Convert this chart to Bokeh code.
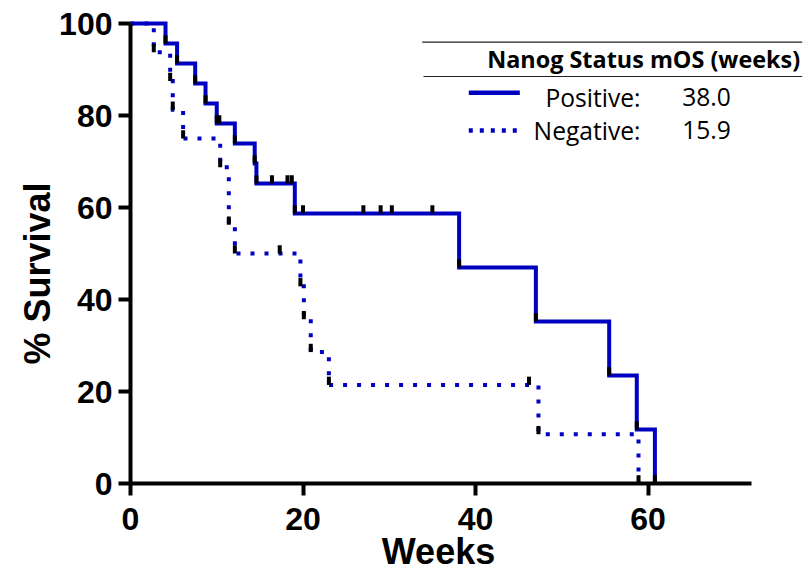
import math
from bokeh.plotting import figure
from bokeh.models import Range1d, FixedTicker
from bokeh.core.properties import value
from bokeh.embed import file_html
from bokeh.resources import INLINE

# ---- data ----
# Nanog positive: event times (weeks) and survival (%) after each event
pos_t = [0, 4.06, 5.4, 7.5, 8.7, 10.0, 12.1, 14.4, 14.6, 19.05, 38.1, 47.0, 55.5, 58.7, 60.8]
pos_s = [100, 95.65, 91.30, 86.96, 82.61, 78.26, 73.91, 69.57, 65.22, 58.70, 46.96, 35.22, 23.48, 11.74, 0]
pos_cens_t = [10.3, 16.4, 18.2, 18.7, 20.0, 27.0, 29.0, 30.3, 35.0]
pos_cens_s = [78.26, 65.22, 65.22, 65.22, 58.70, 58.70, 58.70, 58.70, 58.70]

# Nanog negative
neg_t = [0, 2.7, 4.6, 4.9, 6.1, 10.4, 11.4, 12.1, 19.7, 20.1, 20.9, 23.0, 47.3, 58.9]
neg_s = [100, 93.75, 87.5, 81.25, 75.0, 68.75, 56.25, 50.0, 42.86, 35.71, 28.57, 21.43, 10.71, 0]
neg_cens_t = [17.3, 46.2]
neg_cens_s = [50.0, 21.43]

x_ticks = [0, 20, 40, 60]
y_ticks = [0, 20, 40, 60, 80, 100]
x_axis_end = 72

legend_title = ["Nanog Status", "mOS (weeks)"]
legend_groups = ["Positive:", "Negative:"]
legend_mos = ["38.0", "15.9"]

BLUE = "#0000c0"

# ---- layout geometry (pixels) ----
W, H = 810, 571
X0_PX, PX_PER_WEEK = 130.0, 8.625
Y0_PX, PX_PER_PCT = 483.0, 4.6
BASE_SHIFT = 0.34  # text baseline correction, in em


def dx(px):
    return (px - X0_PX) / PX_PER_WEEK


def dy(py):
    return (Y0_PX - py) / PX_PER_PCT


p = figure(width=W, height=H, x_range=Range1d(dx(0), dx(W)), y_range=Range1d(dy(H), dy(0)),
           output_backend="svg", toolbar_location=None, title=None,
           min_border_left=0, min_border_right=0, min_border_top=0, min_border_bottom=0)
p.grid.visible = False
p.outline_line_color = None
p.background_fill_color = "white"
p.border_fill_color = "white"

for ax in (p.xaxis, p.yaxis):
    ax.fixed_location = 0
    ax.axis_line_width = 4
    ax.axis_line_color = "black"
    ax.major_tick_line_width = 4
    ax.major_tick_line_color = "black"
    ax.major_tick_out = 12
    ax.major_tick_in = 0
    ax.minor_tick_out = 0
    ax.minor_tick_in = 0
    ax.major_label_text_font = "Liberation Sans"
    ax.major_label_text_font_style = "bold"
    ax.major_label_text_font_size = "32px"
    ax.major_label_text_color = "black"
p.xaxis.ticker = FixedTicker(ticks=x_ticks)
p.yaxis.ticker = FixedTicker(ticks=y_ticks)
p.xaxis.bounds = (0, x_axis_end)
p.yaxis.bounds = (0, 100)
p.xaxis.major_label_standoff = 12
p.yaxis.major_label_standoff = 6

# survival curves
p.step(pos_t, pos_s, mode="after", line_color=BLUE, line_width=4, line_join="miter")
p.step(neg_t, neg_s, mode="after", line_color=BLUE, line_width=4, line_dash="4 10",
       line_join="miter")

# tick marks (events + censored)
MARK = 1.8
mx = pos_t[1:] + pos_cens_t + neg_t[1:] + neg_cens_t
my = pos_s[1:] + pos_cens_s + neg_s[1:] + neg_cens_s
p.segment(x0=mx, y0=my, x1=mx, y1=[v + MARK for v in my], line_color="black", line_width=4)

# ---- legend (custom table) ----
HF, RF = 23.4, 24.6
p.segment(x0=[dx(421.7), dx(423)], y0=[dy(41.7), dy(76)], x1=[dx(801.7), dx(801.7)],
          y1=[dy(41.7), dy(76)], line_color="#222222", line_width=1.2)
p.text(x=[dx(486.7)], y=[dy(66.7 - BASE_SHIFT * HF)], text=[" ".join(legend_title)],
       text_font=value("Open Sans"), text_font_style="bold", text_font_size=f"{HF}px",
       text_align="left", text_baseline="alphabetic", text_color="black")
p.line([dx(468.3), dx(519.3)], [dy(92.3), dy(92.3)], line_color=BLUE, line_width=4.5)
p.line([dx(468.3), dx(519.3)], [dy(130), dy(130)], line_color=BLUE, line_width=4.5,
       line_dash="4 7")
row_y = [dy(105 - BASE_SHIFT * RF), dy(138.3 - BASE_SHIFT * RF)]
p.text(x=[dx(640), dx(640)], y=row_y, text=legend_groups,
       text_font=value("Open Sans"), text_font_size=f"{RF}px", text_align="right",
       text_baseline="alphabetic", text_color="black")
p.text(x=[dx(681.7), dx(681.7)], y=row_y, text=legend_mos,
       text_font=value("Open Sans"), text_font_size=f"{RF}px", text_align="left",
       text_baseline="alphabetic", text_color="black")

# axis titles
AF = 36
p.text(x=[dx(438)], y=[dy(563 - BASE_SHIFT * AF)], text=["Weeks"],
       text_font=value("Liberation Sans"), text_font_style="bold", text_font_size=f"{AF}px",
       text_align="center", text_baseline="alphabetic", text_color="black")
p.text(x=[dx(49 - BASE_SHIFT * AF)], y=[dy(273)], text=["% Survival"], angle=math.pi / 2,
       text_font=value("Liberation Sans"), text_font_style="bold", text_font_size=f"{AF}px",
       text_align="center", text_baseline="alphabetic", text_color="black")

open("out.html", "w").write(file_html(p, INLINE))
